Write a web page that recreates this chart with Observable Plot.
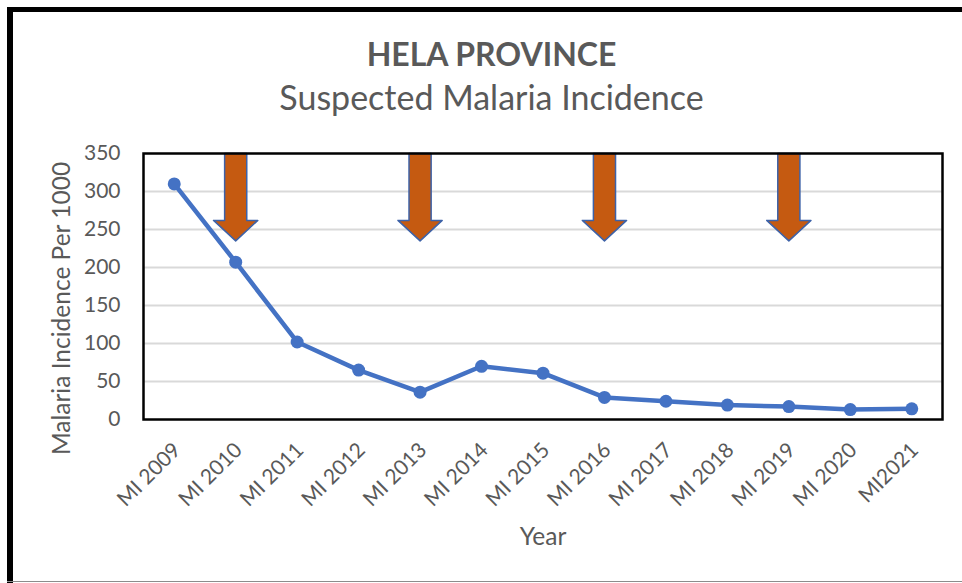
<!DOCTYPE html>
<html>
<head>
<meta charset="utf-8">
<script src="https://cdn.jsdelivr.net/npm/d3@7"></script>
<script src="https://cdn.jsdelivr.net/npm/@observablehq/plot@0.6"></script>
<style>
  html, body { margin: 0; padding: 0; background: #fff; }
  #wrap { position: relative; width: 962px; height: 583px; overflow: hidden; background: #fff; font-family: Lato, "Open Sans", sans-serif; }
  #wrap svg { position: absolute; left: 0; top: 0; }
  .bt { position: absolute; left: 7px; top: 7px; width: 955px; height: 5px; background: #000; z-index: 2; }
  .bl { position: absolute; left: 7px; top: 7px; width: 6px; height: 576px; background: #000; z-index: 2; }
  .bb { position: absolute; left: 7px; top: 581px; width: 955px; height: 1px; background: #8c8c8c; z-index: 2; }
  .title { position: absolute; left: 0; width: 983px; text-align: center; color: #595959; line-height: 1; white-space: nowrap; z-index: 2; }
  #t1 { top: 38px; font-size: 32px; font-weight: 700; }
  #t2 { top: 80px; font-size: 34px; font-weight: 400; }
</style>
</head>
<body>
<div id="wrap">
  <div class="bt"></div>
  <div class="bl"></div>
  <div class="bb"></div>
  <div class="title" id="t1">HELA PROVINCE</div>
  <div class="title" id="t2">Suspected Malaria Incidence</div>
</div>
<script>
// ---- data ----
const years = ["MI 2009", "MI 2010", "MI 2011", "MI 2012", "MI 2013", "MI 2014", "MI 2015",
               "MI 2016", "MI 2017", "MI 2018", "MI 2019", "MI 2020", "MI2021"];
const incidence = [310, 207, 102, 65, 36, 70, 61, 29, 24, 19, 17, 13, 14];
const arrowYears = ["MI 2010", "MI 2013", "MI 2016", "MI 2019"];
const yTicks = [0, 50, 100, 150, 200, 250, 300, 350];
const gridValues = [50, 100, 150, 200, 250, 300];
const yLabel = "Malaria Incidence Per 1000";
const xLabel = "Year";

// arrow geometry (in data units: x = category index, y = incidence scale)
const arrowTop = 350, arrowNeck = 262, arrowTip = 235;
const shaftHalf = 0.18, headHalf = 0.36;

const rows = years.map((year, i) => ({ i, year, value: incidence[i] }));

const arrowPts = [];
arrowYears.forEach((yr, k) => {
  const c = years.indexOf(yr);
  const shape = [
    [c - shaftHalf, arrowTop], [c + shaftHalf, arrowTop], [c + shaftHalf, arrowNeck],
    [c + headHalf, arrowNeck], [c, arrowTip], [c - headHalf, arrowNeck],
    [c - shaftHalf, arrowNeck], [c - shaftHalf, arrowTop]
  ];
  shape.forEach(([x, y]) => arrowPts.push({ id: k, x, y }));
});

const textColor = "#595959";

const chart = Plot.plot({
  width: 962,
  height: 583,
  marginLeft: 143,
  marginRight: 20,
  marginTop: 153,
  marginBottom: 164,
  style: { fontFamily: "Lato, 'Open Sans', sans-serif", color: textColor, background: "transparent", overflow: "visible" },
  x: { type: "linear", domain: [-0.5, years.length - 0.5], axis: null },
  y: { domain: [0, 350], axis: null },
  marks: [
    Plot.ruleY(gridValues, { stroke: "#d9d9d9", strokeWidth: 2 }),
    Plot.axisY({ ticks: yTicks, tickSize: 0, tickPadding: 23, fontSize: 21, label: null, tickFormat: d => String(d) }),
    Plot.text(rows, {
      x: "i", text: "year", frameAnchor: "bottom", dy: 27, dx: 3,
      rotate: -45, textAnchor: "end", lineAnchor: "middle",
      fontSize: 21, fill: textColor
    }),
    Plot.text([yLabel], { frameAnchor: "left", dx: -81, dy: 22, rotate: -90, textAnchor: "middle", lineAnchor: "middle", fontSize: 24.5, fill: textColor }),
    Plot.text([xLabel], { frameAnchor: "bottom", dy: 118, textAnchor: "middle", lineAnchor: "middle", fontSize: 24.5, fill: textColor }),
    Plot.line(arrowPts, { x: "x", y: "y", z: "id", fill: "#C55A11", stroke: "#3D62A8", strokeWidth: 1.5, curve: "linear-closed" }),
    Plot.line(rows, { x: "i", y: "value", stroke: "#4472C4", strokeWidth: 4.5 }),
    Plot.dot(rows, { x: "i", y: "value", r: 6.5, fill: "#4472C4", stroke: "#4472C4", strokeWidth: 0 }),
    Plot.frame({ stroke: "#000", strokeWidth: 2.5 })
  ]
});

document.getElementById("wrap").appendChild(chart);
</script>
</body>
</html>
